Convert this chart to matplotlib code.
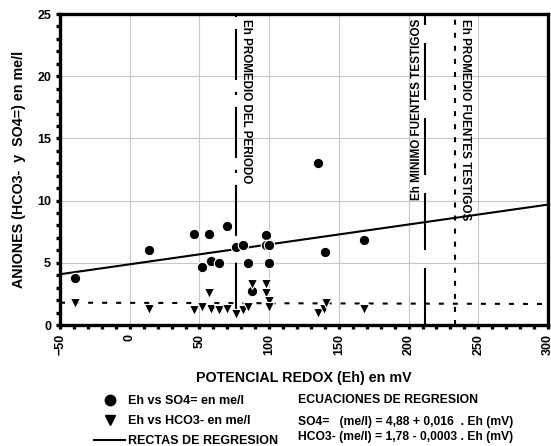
import matplotlib
matplotlib.use('Agg')
from matplotlib import pyplot as plt
from matplotlib.lines import Line2D
from matplotlib.ticker import MultipleLocator

plt.rcParams['font.family'] = ['Liberation Sans', 'DejaVu Sans']
plt.rcParams['font.weight'] = 'bold'
plt.rcParams['axes.labelweight'] = 'bold'
plt.rcParams['lines.scale_dashes'] = False

# Eh (mV) vs SO4= (me/l)
eh_so4 = [-39, 14, 46, 52, 57, 58, 64, 70, 76, 81, 85, 88, 98, 98, 100, 100, 135, 140, 168]
so4 = [3.75, 6.05, 7.3, 4.7, 7.3, 5.15, 5.0, 7.95, 6.25, 6.45, 5.0, 2.75, 7.25, 6.4, 6.45, 5.0, 13.05, 5.9, 6.85]

# Eh (mV) vs HCO3- (me/l)
eh_hco3 = [-39, 14, 46, 52, 57, 58, 64, 70, 76, 81, 85, 88, 98, 98, 100, 100, 135, 139, 141, 168]
hco3 = [1.8, 1.32, 1.18, 1.45, 2.55, 1.26, 1.18, 1.26, 0.9, 1.18, 1.45, 3.3, 3.3, 2.6, 1.94, 1.48, 1.0, 1.3, 1.75, 1.25]

# regression lines
x_reg = [-50, 300]
so4_a, so4_b = 4.88, 0.016
hco3_a, hco3_b = 1.78, -0.0003

# reference Eh values
eh_periodo = 76
eh_minimo = 212
eh_testigos = 233

fig = plt.figure(figsize=(5.51, 4.46), dpi=100)
ax = fig.add_axes([0.109, 0.2713, 0.8856, 0.6973])

ax.set_xlim(-50, 300)
ax.set_ylim(0, 25)
ax.xaxis.set_major_locator(MultipleLocator(50))
ax.xaxis.set_minor_locator(MultipleLocator(10))
ax.yaxis.set_major_locator(MultipleLocator(5))
ax.yaxis.set_minor_locator(MultipleLocator(1))
ax.grid(True, which='major', color='#c8c8c8', linewidth=0.8)
ax.set_axisbelow(True)

for s in ax.spines.values():
    s.set_linewidth(2.4)
ax.tick_params(which='both', direction='out', length=3, width=2.4, labelsize=9)
ax.tick_params(axis='x', which='both', top=False)
ax.tick_params(axis='y', which='both', right=False)
for lab in ax.get_xticklabels():
    lab.set_rotation(90)

# regression lines
ax.plot(x_reg, [so4_a + so4_b * x for x in x_reg], color='black', lw=1.5, zorder=2)
ax.plot(x_reg, [hco3_a + hco3_b * x for x in x_reg], color='black', lw=1.5,
        linestyle=(0, (3.6, 6.5)), zorder=2)

# vertical reference lines
ax.plot([eh_periodo, eh_periodo], [25, 0], color='black', lw=1.5,
        linestyle=(0, (2.2, 8.6, 36.7, 8.6)), zorder=2)
ax.plot([eh_minimo, eh_minimo], [0, 25], color='black', lw=1.5,
        linestyle=(0, (41, 13)), zorder=2)
ax.plot([eh_testigos, eh_testigos], [0, 25], color='black', lw=1.5,
        linestyle=(0, (3.6, 5.8)), zorder=2)

ax.text(eh_periodo + 3, 24.6, 'Eh PROMEDIO DEL PERIODO', rotation=-90,
        ha='left', va='top', fontsize=8.4, fontweight='bold')
ax.text(eh_minimo - 2, 24.6, 'Eh MINIMO FUENTES TESTIGOS', rotation=90,
        ha='right', va='top', fontsize=8.4, fontweight='bold')
ax.text(eh_testigos + 3, 24.6, 'Eh PROMEDIO FUENTES TESTIGOS', rotation=-90,
        ha='left', va='top', fontsize=8.4, fontweight='bold')

# data points
ax.plot(eh_so4, so4, 'o', color='black', markersize=7.5, markeredgecolor='white',
        markeredgewidth=0.8, zorder=3)
ax.plot(eh_hco3, hco3, 'v', color='black', markersize=7, markeredgecolor='white',
        markeredgewidth=0.8, zorder=3)

ax.set_xlabel('POTENCIAL REDOX (Eh) en mV', fontsize=10.3, labelpad=11)
ax.set_ylabel('ANIONES (HCO3-  y  SO4=) en me/l', fontsize=10.3, labelpad=8)

# legend
handles = [
    Line2D([], [], marker='o', color='black', linestyle='none', markersize=7.5),
    Line2D([], [], marker='v', color='black', linestyle='none', markersize=7),
    Line2D([], [], color='black', lw=1.5),
]
labels = ['Eh vs SO4= en me/l', 'Eh vs HCO3- en me/l', 'RECTAS DE REGRESION']
fig.legend(handles, labels, loc='upper left', bbox_to_anchor=(94 / 551, 1 - 395 / 446),
           bbox_transform=fig.transFigure, frameon=False, fontsize=9,
           prop={'weight': 'bold', 'size': 9},
           handlelength=2.5, handletextpad=0.25, labelspacing=0.65,
           borderpad=0, borderaxespad=0)

fig.text(298 / 551, 1 - 400 / 446, 'ECUACIONES DE REGRESION', ha='left', va='center',
         fontsize=8.8, fontweight='bold')
fig.text(298 / 551, 1 - 422 / 446, 'SO4=   (me/l) = 4,88 + 0,016  . Eh (mV)',
         ha='left', va='center', fontsize=8.7, fontweight='bold')
fig.text(298 / 551, 1 - 437 / 446, 'HCO3- (me/l) = 1,78 - 0,0003 . Eh (mV)',
         ha='left', va='center', fontsize=8.7, fontweight='bold')

fig.savefig('out.png', dpi=100)
